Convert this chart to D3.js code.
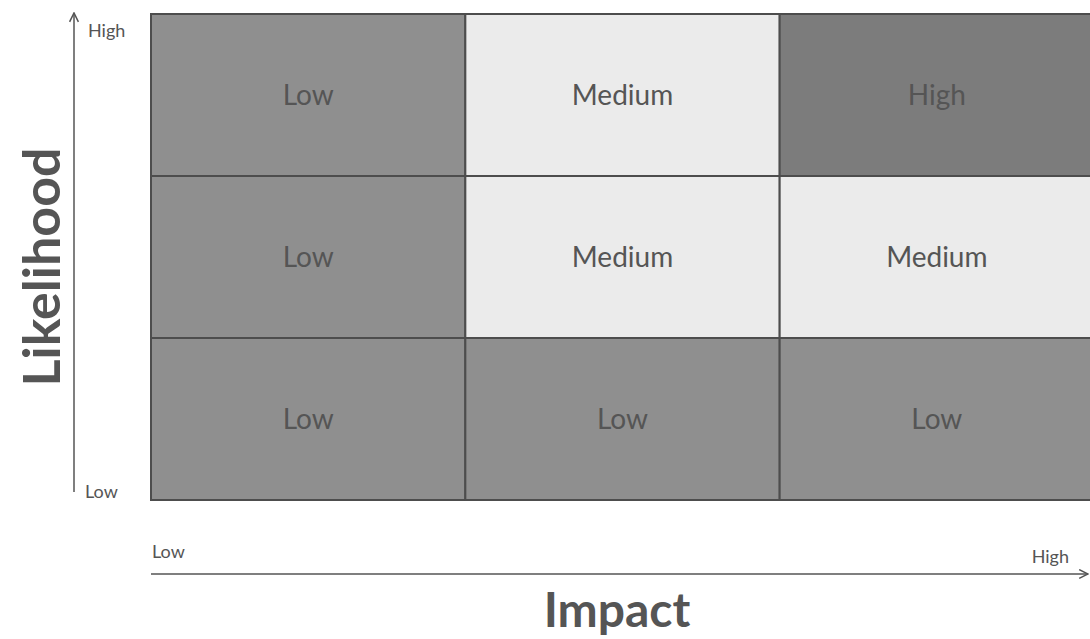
<!DOCTYPE html>
<html>
<head>
<meta charset="utf-8">
<script src="https://cdn.jsdelivr.net/npm/d3@7"></script>
<style>
  body { margin: 0; background: #fff; }
  text { font-family: Lato, "Open Sans", sans-serif; }
</style>
</head>
<body>
<div id="chart-area"></div>
<script>
// categories along each axis
const impactLevels = ["Low", "Medium", "High"];
const likelihoodLevels = ["Low", "Medium", "High"];
// risk rating per cell, row = likelihood, col = impact
const cells = [
  { likelihood: "High",   impact: "Low",    rating: "Low" },
  { likelihood: "High",   impact: "Medium", rating: "Medium" },
  { likelihood: "High",   impact: "High",   rating: "High" },
  { likelihood: "Medium", impact: "Low",    rating: "Low" },
  { likelihood: "Medium", impact: "Medium", rating: "Medium" },
  { likelihood: "Medium", impact: "High",   rating: "Medium" },
  { likelihood: "Low",    impact: "Low",    rating: "Low" },
  { likelihood: "Low",    impact: "Medium", rating: "Low" },
  { likelihood: "Low",    impact: "High",   rating: "Low" }
];
const axisEndLabels = ["Low", "High"];

const W = 1090, H = 639;

const svg = d3.select("#chart-area")
  .append("svg")
    .attr("width", W)
    .attr("height", H);

// arrow marker
svg.append("defs").append("marker")
  .attr("id", "arrow")
  .attr("viewBox", "0 0 10 10")
  .attr("refX", 9)
  .attr("refY", 5)
  .attr("markerWidth", 11)
  .attr("markerHeight", 11)
  .attr("markerUnits", "userSpaceOnUse")
  .attr("orient", "auto")
  .append("path")
    .attr("d", "M1,1 L9,5 L1,9")
    .attr("fill", "none")
    .attr("stroke", "#555")
    .attr("stroke-width", 1.4);

// scales
const x = d3.scaleBand()
  .domain(impactLevels)
  .range([151, 1094]);
const y = d3.scaleBand()
  .domain(likelihoodLevels.slice().reverse())
  .range([14, 500]);

const color = d3.scaleOrdinal()
  .domain(["Low", "Medium", "High"])
  .range(["#8f8f8f", "#ebebeb", "#7c7c7c"]);

// cells
const grid = svg.append("g");
grid.selectAll("rect")
  .data(cells)
  .enter()
  .append("rect")
    .attr("x", d => x(d.impact))
    .attr("y", d => y(d.likelihood))
    .attr("width", x.bandwidth())
    .attr("height", y.bandwidth())
    .attr("fill", d => color(d.rating))
    .attr("stroke", "#4d4d4d")
    .attr("stroke-width", 2);

grid.selectAll("text")
  .data(cells)
  .enter()
  .append("text")
    .attr("x", d => x(d.impact) + x.bandwidth() / 2)
    .attr("y", d => y(d.likelihood) + y.bandwidth() / 2)
    .attr("dy", "0.36em")
    .attr("text-anchor", "middle")
    .attr("font-size", "28px")
    .attr("fill", "#555")
    .text(d => d.rating);

// likelihood axis (vertical arrow)
svg.append("line")
  .attr("x1", 74).attr("y1", 492)
  .attr("x2", 74).attr("y2", 13)
  .attr("stroke", "#555")
  .attr("stroke-width", 1.5)
  .attr("marker-end", "url(#arrow)");
svg.append("text")
  .attr("x", 88).attr("y", 37)
  .attr("font-size", "18px")
  .attr("fill", "#555")
  .text(axisEndLabels[1]);
svg.append("text")
  .attr("x", 85).attr("y", 498)
  .attr("font-size", "18px")
  .attr("fill", "#555")
  .text(axisEndLabels[0]);
svg.append("text")
  .attr("transform", "translate(60,267) rotate(-90)")
  .attr("text-anchor", "middle")
  .attr("font-size", "52px")
  .attr("font-weight", "bold")
  .attr("fill", "#555")
  .text("Likelihood");

// impact axis (horizontal arrow)
svg.append("line")
  .attr("x1", 151).attr("y1", 574)
  .attr("x2", 1088).attr("y2", 574)
  .attr("stroke", "#555")
  .attr("stroke-width", 1.5)
  .attr("marker-end", "url(#arrow)");
svg.append("text")
  .attr("x", 152).attr("y", 558)
  .attr("font-size", "18px")
  .attr("fill", "#555")
  .text(axisEndLabels[0]);
svg.append("text")
  .attr("x", 1069).attr("y", 563)
  .attr("text-anchor", "end")
  .attr("font-size", "18px")
  .attr("fill", "#555")
  .text(axisEndLabels[1]);
svg.append("text")
  .attr("x", 617).attr("y", 627)
  .attr("text-anchor", "middle")
  .attr("font-size", "48px")
  .attr("font-weight", "bold")
  .attr("fill", "#555")
  .text("Impact");
</script>
</body>
</html>
